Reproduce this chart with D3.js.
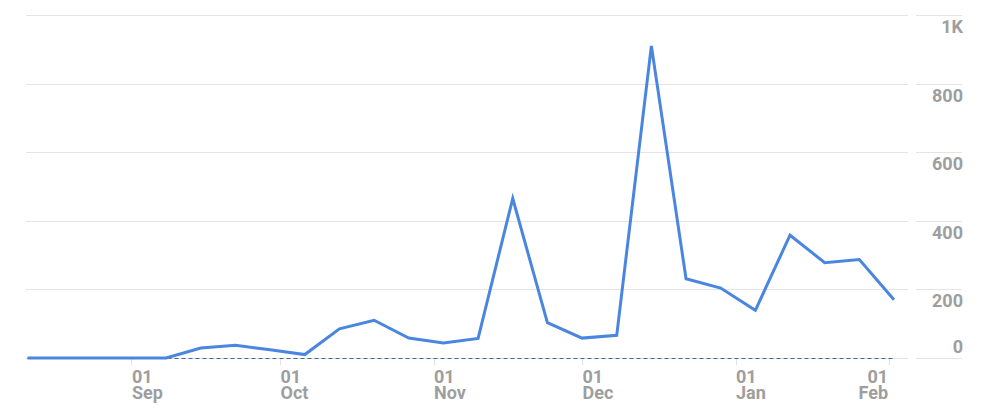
<!DOCTYPE html>
<html>
<head>
<meta charset="utf-8">
<script src="https://cdn.jsdelivr.net/npm/d3@7"></script>
<style>
  html, body { margin: 0; padding: 0; background: #fff; }
  svg { display: block; }
  text { font-family: Roboto, "Noto Sans", sans-serif; font-weight: bold; fill: #9e9e9e; }
</style>
</head>
<body>
<svg id="chart" width="1000" height="410"></svg>
<script>
// ---- data ----
const weekDates = [
  "2013-08-11","2013-08-18","2013-08-25","2013-09-01","2013-09-08","2013-09-15",
  "2013-09-22","2013-09-29","2013-10-06","2013-10-13","2013-10-20","2013-10-27",
  "2013-11-03","2013-11-10","2013-11-17","2013-11-24","2013-12-01","2013-12-08",
  "2013-12-15","2013-12-22","2013-12-29","2014-01-05","2014-01-12","2014-01-19",
  "2014-01-26","2014-02-02"
];
const visits = [
  0, 0, 0, 0, 0, 29,
  37, 24, 10, 85, 110, 58,
  44, 57, 465, 103, 58, 66,
  910, 231, 204, 139, 358, 278,
  287, 170
];
const yTickValues = [0, 200, 400, 600, 800, 1000];
const yTickLabels = ["0", "200", "400", "600", "800", "1K"];
const xDomainDates = ["2013-08-11", "2014-02-02"];

// ---- layout ----
const svg = d3.select("#chart");
const parse = d3.utcParse("%Y-%m-%d");
const data = weekDates.map((d, i) => ({ date: parse(d), value: visits[i] }));

const plotLeft = 26, plotRight = 908;
const x = d3.scaleUtc()
  .domain(xDomainDates.map(parse))
  .range([27.5, 894]);
const y = d3.scaleLinear().domain([0, 1000]).range([358, 15]);

// gridlines (main plot area)
const grid = svg.append("g");
grid.selectAll("line.main").data(yTickValues).join("line")
  .attr("class", "main")
  .attr("x1", plotLeft).attr("x2", plotRight)
  .attr("y1", d => Math.round(y(d)) + 0.5).attr("y2", d => Math.round(y(d)) + 0.5)
  .attr("stroke", "#e4e4e4").attr("stroke-width", 1);
// gridline segments in label column
grid.selectAll("line.lab").data(yTickValues).join("line")
  .attr("class", "lab")
  .attr("x1", 916).attr("x2", 962)
  .attr("y1", d => Math.round(y(d)) + 0.5).attr("y2", d => Math.round(y(d)) + 0.5)
  .attr("stroke", "#e4e4e4").attr("stroke-width", 1);

// y labels
svg.append("g").selectAll("text").data(yTickValues).join("text")
  .attr("x", 963)
  .attr("y", d => d === 0 ? y(d) - 5 : y(d) + 18)
  .attr("text-anchor", "end")
  .attr("font-size", 18)
  .text((d, i) => yTickLabels[i]);

// x axis ticks
const xTicks = x.ticks(d3.utcMonth.every(1)).filter(d => x(d) >= plotLeft && x(d) <= plotRight);
const xg = svg.append("g");
xg.selectAll("line").data(xTicks).join("line")
  .attr("x1", d => Math.round(x(d)) + 0.5).attr("x2", d => Math.round(x(d)) + 0.5)
  .attr("y1", 359).attr("y2", 365)
  .attr("stroke", "#e0e0e0");
const last = xTicks[xTicks.length - 1];
const xl = xg.selectAll("text").data(xTicks).join("text")
  .attr("x", d => d === last ? x(d) - 1 : x(d) + 0.5)
  .attr("y", 383)
  .attr("text-anchor", d => d === last ? "end" : "start")
  .attr("font-size", 18);
xl.append("tspan")
  .attr("x", d => d === last ? x(d) - 1 : x(d) + 0.5)
  .text(d => d3.utcFormat("%d")(d));
xl.append("tspan")
  .attr("x", d => d === last ? x(d) - 1 : x(d) + 0.5)
  .attr("dy", 16)
  .text(d => d3.utcFormat("%b")(d));

// dashed zero baseline
svg.append("line")
  .attr("x1", x(data[0].date)).attr("x2", x(data[data.length - 1].date) + 1)
  .attr("y1", Math.round(y(0)) + 0.5).attr("y2", Math.round(y(0)) + 0.5)
  .attr("stroke", "#45668e").attr("stroke-width", 1)
  .attr("stroke-dasharray", "4,3");

// series line
const line = d3.line().x(d => x(d.date)).y(d => y(d.value));
svg.append("path")
  .datum(data)
  .attr("d", line)
  .attr("fill", "none")
  .attr("stroke", "#4a86e0")
  .attr("stroke-width", 3)
  .attr("stroke-linejoin", "miter")
  .attr("stroke-linecap", "butt");
</script>
</body>
</html>
